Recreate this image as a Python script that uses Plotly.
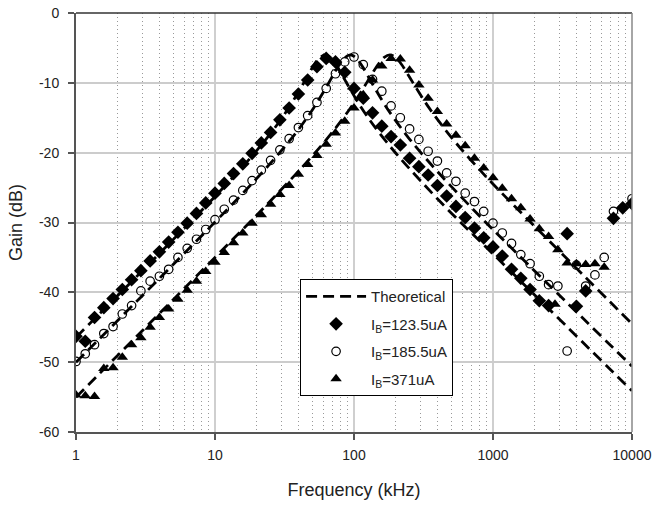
import plotly.graph_objects as go

# ---------------- data ----------------
freq = [1, 1.166, 1.359, 1.585, 1.848, 2.154, 2.512, 2.929, 3.415, 3.981,
        4.642, 5.412, 6.310, 7.356, 8.577, 10, 11.66, 13.59, 15.85, 18.48,
        21.54, 25.12, 29.29, 34.15, 39.81, 46.42, 54.12, 63.10, 73.56, 85.77,
        100, 116.6, 135.9, 158.5, 184.8, 215.4, 251.2, 292.9, 341.5, 398.1,
        464.2, 541.2, 631.0, 735.6, 857.7, 1000, 1166, 1359, 1585, 1848,
        2154, 2512, 2929, 3415, 3981, 4642, 5412, 6310, 7356, 8577, 10000]

gain_123 = [-46.3, -47.0, -43.6, -42.2, -40.9, -39.6, -38.2, -36.9, -35.5, -34.2,
            -32.8, -31.4, -30.1, -28.7, -27.2, -25.8, -24.4, -23.0, -21.6, -20.1,
            -18.6, -17.1, -15.3, -13.6, -11.6, -9.6, -7.7, -6.5, -7.0, -8.5,
            -10.8, -12.2, -14.3, -16.2, -17.7, -18.9, -20.8, -22.0, -23.2, -24.7,
            -26.2, -27.7, -29.3, -30.8, -32.2, -33.5, -34.8, -36.7, -38.0, -39.6,
            -41.2, -41.9, None, -31.6, -42.0, -39.8, None, None, -29.4, -27.9, -27.3]

gain_185 = [-49.9, -48.8, -47.5, -45.9, -44.9, -43.1, -41.9, -39.8, -38.4, -37.7,
            -36.7, -35.0, -33.7, -32.4, -31.0, -29.6, -28.1, -26.8, -25.4, -24.0,
            -22.5, -21.1, -19.6, -18.0, -16.4, -14.7, -12.8, -10.8, -8.7, -7.0,
            -6.3, -7.4, -9.5, -11.2, -13.3, -15.0, -16.6, -18.1, -19.8, -21.2,
            -22.9, -24.1, -25.8, -27.0, -28.4, -30.1, -31.5, -33.0, -34.6, -35.9,
            -37.7, -38.9, -39.1, -48.4, -36.1, -39.1, -37.5, -35.0, -28.4, None, -26.6]

gain_371 = [-54.7, -54.8, -54.9, -50.9, -50.8, -49.3, -47.5, -46.5, -45.0, -43.6,
            -42.4, -41.0, -39.7, -38.4, -37.0, -35.7, -34.3, -32.9, -31.5, -30.1,
            -28.9, -27.4, -26.0, -24.7, -23.1, -21.7, -20.4, -18.8, -17.2, -15.5,
            -13.6, -11.7, -9.6, -7.6, -6.5, -6.6, -8.2, -10.3, -12.2, -14.1,
            -15.9, -17.5, -19.0, -20.8, -22.2, -23.6, -25.1, -26.6, -27.9, -29.5,
            -30.9, -32.0, -33.9, -35.8, -35.9, -36.0, -35.9, -36.4, None, None, None]
extra_371_f = [2793]
extra_371_g = [-41.7]

theo1_f = [1, 10, 20, 30, 40, 45, 50, 55, 62, 68, 75, 80, 90, 110, 130, 150, 200, 300, 500, 1000, 10000]
theo1_g = [-46.45, -26.27, -19.67, -15.16, -11.27, -9.48, -7.88, -6.67, -6.0, -6.41, -7.54,
           -8.47, -10.28, -13.19, -15.34, -17.01, -20.08, -23.99, -28.63, -34.5, -54.1]
theo2_f = [1, 10, 20, 30, 40, 50, 60, 68, 75, 84, 94, 104, 115, 125, 140, 160, 180, 250, 400, 700, 1000, 10000]
theo2_g = [-50.02, -29.94, -23.67, -19.73, -16.64, -13.92, -11.39, -9.50, -8.02, -6.59, -6.0,
           -6.48, -7.68, -8.91, -10.64, -12.58, -14.16, -18.01, -22.74, -27.87, -31.03, -50.6]
theo3_f = [1, 10, 30, 60, 90, 105, 120, 135, 150, 165, 181, 200, 220, 250, 280, 350, 500, 700, 1000, 10000]
theo3_g = [-55.02, -35.0, -25.28, -18.68, -14.18, -12.22, -10.38, -8.70, -7.30, -6.35, -6.0,
           -6.40, -7.38, -9.12, -10.73, -13.70, -17.77, -21.15, -24.48, -44.5]

x_ticks = [1, 10, 100, 1000, 10000]
x_ticktext = ["1", "10", "100", "1000", "10000"]
y_ticks = [-60, -50, -40, -30, -20, -10, 0]
y_ticktext = ["-60", "-50", "-40", "-30", "-20", "-10", "0"]

# ---------------- figure ----------------
FONT = "Arial, Liberation Sans, sans-serif"
TXT = "#222222"
fig = go.Figure()

fig.add_trace(go.Scatter(x=freq, y=gain_123, mode="markers", name="I<sub>B</sub>=123.5uA",
                         marker=dict(symbol="diamond", size=10.5, color="black"),
                         legendrank=2, legendgroup="a"))
fig.add_trace(go.Scatter(x=freq, y=gain_185, mode="markers", name="I<sub>B</sub>=185.5uA",
                         marker=dict(symbol="circle-open", size=8.5, color="black",
                                     line=dict(width=1.2, color="black")),
                         legendrank=3, legendgroup="b"))
fig.add_trace(go.Scatter(x=freq + extra_371_f, y=gain_371 + extra_371_g, mode="markers",
                         name="I<sub>B</sub>=371uA",
                         marker=dict(symbol="triangle-up", size=10, color="black"),
                         legendrank=4, legendgroup="c"))

for i, (tf, tg) in enumerate([(theo1_f, theo1_g), (theo2_f, theo2_g), (theo3_f, theo3_g)]):
    fig.add_trace(go.Scatter(x=tf, y=tg, mode="lines", name="Theoretical",
                             line=dict(color="black", width=2.8, dash="11px,6px", shape="spline"),
                             showlegend=(i == 0), legendrank=1, legendgroup="t"))

minor_vals = [m * 10 ** d for d in range(4) for m in range(2, 10)]

fig.update_layout(
    width=654, height=508,
    margin=dict(l=76, r=22, t=13, b=76),
    paper_bgcolor="white", plot_bgcolor="white",
    font=dict(family=FONT, size=14, color=TXT),
    legend=dict(x=0.403, y=0.365, xanchor="left", yanchor="top",
                bgcolor="white", bordercolor="black", borderwidth=1,
                font=dict(size=15, family=FONT, color=TXT),
                tracegroupgap=5, itemwidth=60),
    xaxis=dict(type="log", range=[0, 4], tickvals=x_ticks, ticktext=x_ticktext,
               automargin=False,
               showgrid=True, gridcolor="#cfcfcf", gridwidth=2,
               showline=True, linecolor="#555555", linewidth=2,
               ticks="outside", ticklen=6, tickcolor="#555555", tickwidth=1.5,
               ticklabelstandoff=3,
               minor=dict(tickvals=minor_vals, showgrid=True, griddash="1px,3px",
                          gridcolor="#999999", gridwidth=1, ticks=""),
               title=dict(text="Frequency (kHz)", font=dict(size=18, family=FONT, color=TXT),
                          standoff=22),
               zeroline=False),
    yaxis=dict(range=[-60, 0], tickvals=y_ticks, ticktext=y_ticktext,
               automargin=False,
               showgrid=True, gridcolor="#cccccc", gridwidth=1.5,
               showline=True, linecolor="#555555", linewidth=2,
               ticks="outside", ticklen=6, tickcolor="#555555", tickwidth=1.5,
               ticklabelstandoff=6,
               title=dict(text="Gain (dB)", font=dict(size=18, family=FONT, color=TXT),
                          standoff=12),
               zeroline=False),
    shapes=[
        dict(type="line", xref="paper", yref="paper", x0=0, x1=1, y0=1, y1=1,
             line=dict(color="#333333", width=1.5)),
        dict(type="line", xref="paper", yref="paper", x0=1, x1=1, y0=0, y1=1,
             line=dict(color="#888888", width=1.5)),
    ],
)

fig.write_html("out.html")
